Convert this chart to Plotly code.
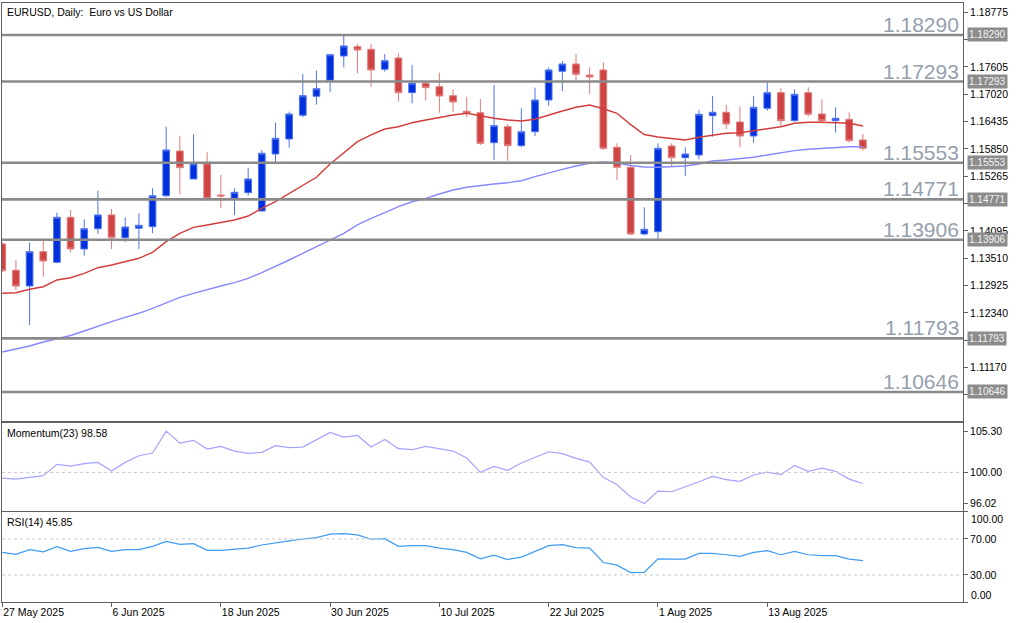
import plotly.graph_objects as go

# ---------------- data ----------------
dates = [
    "2025-05-27", "2025-05-28", "2025-05-29", "2025-05-30", "2025-06-02", "2025-06-03", "2025-06-04", "2025-06-05",
    "2025-06-06", "2025-06-09", "2025-06-10", "2025-06-11", "2025-06-12", "2025-06-13", "2025-06-16", "2025-06-17",
    "2025-06-18", "2025-06-19", "2025-06-20", "2025-06-23", "2025-06-24", "2025-06-25", "2025-06-26", "2025-06-27",
    "2025-06-30", "2025-07-01", "2025-07-02", "2025-07-03", "2025-07-04", "2025-07-07", "2025-07-08", "2025-07-09",
    "2025-07-10", "2025-07-11", "2025-07-14", "2025-07-15", "2025-07-16", "2025-07-17", "2025-07-18", "2025-07-21",
    "2025-07-22", "2025-07-23", "2025-07-24", "2025-07-25", "2025-07-28", "2025-07-29", "2025-07-30", "2025-07-31",
    "2025-08-01", "2025-08-04", "2025-08-05", "2025-08-06", "2025-08-07", "2025-08-08", "2025-08-11", "2025-08-12",
    "2025-08-13", "2025-08-14", "2025-08-15", "2025-08-18", "2025-08-19", "2025-08-20", "2025-08-21", "2025-08-22",
]

open_ = [1.13815, 1.13252, 1.12915, 1.13650, 1.13423, 1.14386, 1.13708, 1.14142, 1.14436, 1.13950, 1.14151, 1.14185,
         1.14849, 1.15806, 1.15207, 1.15528, 1.14864, 1.14793, 1.14913, 1.14521, 1.15742, 1.16063, 1.16571, 1.16977,
         1.17320, 1.17840, 1.18040, 1.17984, 1.17556, 1.17798, 1.17055, 1.17256, 1.17183, 1.16990, 1.16656, 1.16626,
         1.15984, 1.16326, 1.15920, 1.16219, 1.16898, 1.17513, 1.17669, 1.17434, 1.17541, 1.15885, 1.15457, 1.14029,
         1.14078, 1.15913, 1.15663, 1.15720, 1.16562, 1.16635, 1.16427, 1.16127, 1.16720, 1.17055, 1.16455, 1.17055,
         1.16598, 1.16455, 1.16485, 1.16042]
high = [1.13858, 1.13472, 1.13851, 1.13900, 1.14485, 1.14543, 1.14344, 1.14956, 1.14564, 1.14386, 1.14472, 1.15007,
        1.16326, 1.16134, 1.16164, 1.15778, 1.15292, 1.15007, 1.15449, 1.15828, 1.16412, 1.16648, 1.17455, 1.17526,
        1.17883, 1.18269, 1.18097, 1.18097, 1.17883, 1.17898, 1.17648, 1.17290, 1.17483, 1.17127, 1.16969, 1.16920,
        1.17219, 1.16384, 1.16720, 1.17162, 1.17598, 1.17733, 1.17883, 1.17598, 1.17705, 1.15971, 1.15720, 1.14601,
        1.15971, 1.15971, 1.15885, 1.16684, 1.16984, 1.16791, 1.16755, 1.16984, 1.17290, 1.17149, 1.17127, 1.17170,
        1.16913, 1.16742, 1.16635, 1.16170]
low = [1.13215, 1.12830, 1.12080, 1.13115, 1.13402, 1.13637, 1.13564, 1.14029, 1.13708, 1.13851, 1.13708, 1.14044,
       1.14815, 1.14879, 1.15207, 1.14742, 1.14579, 1.14436, 1.14849, 1.14521, 1.15571, 1.15877, 1.16528, 1.16798,
       1.17063, 1.17598, 1.17470, 1.17170, 1.17504, 1.16862, 1.16828, 1.16883, 1.16626, 1.16641, 1.16528, 1.15935,
       1.15613, 1.15598, 1.15885, 1.16127, 1.16776, 1.17091, 1.17326, 1.17027, 1.15828, 1.15185, 1.14007, 1.14007,
       1.13907, 1.15485, 1.15271, 1.15628, 1.16112, 1.16277, 1.15885, 1.15984, 1.16669, 1.16326, 1.16434, 1.16541,
       1.16399, 1.16198, 1.15984, 1.15813]
close = [1.13243, 1.12915, 1.13650, 1.13451, 1.14386, 1.13708, 1.14142, 1.14436, 1.13950, 1.14179, 1.14215, 1.14849,
         1.15828, 1.15449, 1.15528, 1.14793, 1.14843, 1.14922, 1.15207, 1.15757, 1.16078, 1.16598, 1.16990, 1.17140,
         1.17868, 1.18055, 1.17969, 1.17541, 1.17740, 1.17055, 1.17256, 1.17162, 1.16984, 1.16855, 1.16613, 1.15971,
         1.16348, 1.15920, 1.16219, 1.16898, 1.17541, 1.17669, 1.17449, 1.17391, 1.15864, 1.15457, 1.14029, 1.14130,
         1.15864, 1.15663, 1.15742, 1.16592, 1.16635, 1.16384, 1.16127, 1.16742, 1.17055, 1.16455, 1.17020, 1.16592,
         1.16455, 1.16506, 1.16027, 1.15864]

ma_fast = [1.12759, 1.12772, 1.12845, 1.12900, 1.13044, 1.13093, 1.13187, 1.13307, 1.13365, 1.13436, 1.13509, 1.13637,
           1.13864, 1.14044, 1.14172, 1.14222, 1.14271, 1.14329, 1.14414, 1.14579, 1.14720, 1.14900, 1.15078, 1.15243,
           1.15528, 1.15757, 1.16005, 1.16149, 1.16277, 1.16326, 1.16412, 1.16470, 1.16528, 1.16577, 1.16613, 1.16556,
           1.16506, 1.16470, 1.16449, 1.16485, 1.16577, 1.16663, 1.16742, 1.16791, 1.16710, 1.16613, 1.16370, 1.16159,
           1.16106, 1.16078, 1.16042, 1.16100, 1.16149, 1.16185, 1.16198, 1.16241, 1.16292, 1.16326, 1.16399, 1.16421,
           1.16421, 1.16412, 1.16399, 1.16342]
ma_slow = [1.11502, 1.11566, 1.11631, 1.11716, 1.11781, 1.11855, 1.11952, 1.12059, 1.12151, 1.12245, 1.12331, 1.12438,
           1.12558, 1.12673, 1.12759, 1.12845, 1.12915, 1.12986, 1.13080, 1.13200, 1.13329, 1.13472, 1.13616, 1.13757,
           1.13900, 1.14044, 1.14222, 1.14365, 1.14485, 1.14613, 1.14720, 1.14793, 1.14885, 1.14971, 1.15029, 1.15072,
           1.15100, 1.15127, 1.15170, 1.15256, 1.15342, 1.15414, 1.15485, 1.15543, 1.15571, 1.15549, 1.15496, 1.15464,
           1.15457, 1.15470, 1.15485, 1.15528, 1.15592, 1.15613, 1.15635, 1.15671, 1.15720, 1.15770, 1.15813, 1.15843,
           1.15864, 1.15877, 1.15898, 1.15898]

momentum = [99.28, 99.15, 99.37, 99.58, 101.03, 100.82, 101.12, 101.29, 100.18, 101.29, 102.14, 102.48,
            105.30, 103.76, 104.11, 103.00, 103.34, 102.74, 102.44, 102.57, 103.43, 103.17, 103.25, 104.19,
            105.13, 104.53, 104.74, 103.25, 104.23, 103.04, 102.91, 103.34, 103.00, 102.74, 101.84, 100.01,
            100.78, 100.26, 101.20, 101.97, 102.65, 102.40, 101.80, 101.33, 99.37, 98.43, 96.85, 96.02,
            97.62, 97.53, 98.13, 98.81, 99.50, 99.07, 98.86, 99.67, 100.05, 99.71, 100.90, 100.14,
            100.56, 100.14, 99.15, 98.58]
rsi = [55.1, 52.9, 58.1, 55.8, 61.4, 56.2, 59.2, 60.7, 56.2, 58.1, 58.1, 61.8,
       67.4, 64.1, 64.8, 57.3, 57.3, 58.4, 59.9, 63.3, 65.2, 67.8, 70.0, 71.5,
       75.3, 76.0, 74.5, 69.7, 70.4, 61.8, 62.6, 62.6, 59.9, 58.1, 55.1, 48.0,
       52.1, 47.2, 49.9, 56.6, 62.6, 63.7, 60.3, 59.9, 43.9, 40.9, 32.6, 33.0,
       48.0, 47.6, 47.6, 54.0, 54.0, 52.5, 50.6, 55.1, 57.0, 52.5, 56.2, 52.5,
       51.4, 51.4, 47.6, 45.85]

levels = [1.18290, 1.17293, 1.15553, 1.14771, 1.13906, 1.11793, 1.10646]
level_labels = ["1.18290", "1.17293", "1.15553", "1.14771", "1.13906", "1.11793", "1.10646"]

price_ticks = [1.18775, 1.18190, 1.17605, 1.17020, 1.16435, 1.15850, 1.15265, 1.14680,
               1.14095, 1.13510, 1.12925, 1.12340, 1.11755, 1.11170, 1.10585]
# labels hidden behind the level tags are left blank
price_tick_labels = ["1.18775", "", "1.17605", "1.17020", "1.16435", "1.15850", "1.15265", "",
                     "1.14095", "1.13510", "1.12925", "1.12340", "", "1.11170", ""]
mom_ticks = [96.02, 100.00, 105.30]
rsi_ticks = [0, 30, 70, 100]
date_ticks = ["2025-05-27", "2025-06-06", "2025-06-18", "2025-06-30", "2025-07-10", "2025-07-22", "2025-08-01", "2025-08-13"]
date_tick_labels = ["27 May 2025", "6 Jun 2025", "18 Jun 2025", "30 Jun 2025", "10 Jul 2025", "22 Jul 2025",
                    "1 Aug 2025", "13 Aug 2025"]

# ---------------- figure ----------------
FONT = "Liberation Sans"
AX = "#606060"

fig = go.Figure()

fig.add_trace(go.Candlestick(
    x=dates, open=open_, high=high, low=low, close=close,
    increasing=dict(line=dict(color="#4f74ef", width=1), fillcolor="#0030dc"),
    decreasing=dict(line=dict(color="#e07a7a", width=1), fillcolor="#d04343"),
    whiskerwidth=0, xaxis="x", yaxis="y", showlegend=False, hoverinfo="skip",
))
fig.add_trace(go.Scatter(x=dates, y=ma_fast, mode="lines", line=dict(color="#d43c3c", width=1.4),
                         xaxis="x", yaxis="y", showlegend=False, hoverinfo="skip"))
fig.add_trace(go.Scatter(x=dates, y=ma_slow, mode="lines", line=dict(color="#8787ff", width=1.4),
                         xaxis="x", yaxis="y", showlegend=False, hoverinfo="skip"))
fig.add_trace(go.Scatter(x=dates, y=momentum, mode="lines", line=dict(color="#a3a3ff", width=1.2),
                         xaxis="x2", yaxis="y2", showlegend=False, hoverinfo="skip"))
fig.add_trace(go.Scatter(x=dates, y=rsi, mode="lines", line=dict(color="#3f9cf0", width=1.2),
                         xaxis="x3", yaxis="y3", showlegend=False, hoverinfo="skip"))

xcommon = dict(type="category", range=[-0.02, 70.33], showline=True, linecolor=AX, linewidth=1, mirror=True,
               showgrid=False, zeroline=False, rangeslider=dict(visible=False), fixedrange=True)

shapes = []
annotations = []
for lv, lab in zip(levels, level_labels):
    shapes.append(dict(type="line", xref="paper", x0=0, x1=1, yref="y", y0=lv, y1=lv,
                       line=dict(color="#8a8a8a", width=2.6), layer="above"))
    annotations.append(dict(xref="paper", x=1, xanchor="right", xshift=-2, yref="y", y=lv, yanchor="bottom",
                            yshift=-3, text=lab, showarrow=False,
                            font=dict(family=FONT, size=21, color="#95a0ad")))
    annotations.append(dict(xref="paper", x=1, xanchor="left", xshift=4, yref="y", y=lv, yanchor="middle",
                            text=lab, showarrow=False, bgcolor="#8c8c8c", borderpad=1,
                            font=dict(family=FONT, size=10, color="#f4f4f4")))

shapes.append(dict(type="line", xref="paper", x0=0, x1=1, yref="y2", y0=100, y1=100,
                   line=dict(color="#c8c8c8", width=1, dash="dot")))
for v in (70, 30):
    shapes.append(dict(type="line", xref="paper", x0=0, x1=1, yref="y3", y0=v, y1=v,
                       line=dict(color="#c8c8c8", width=1, dash="dot")))

annotations.append(dict(xref="paper", x=0, xanchor="left", xshift=3, yref="paper", y=1, yanchor="top", yshift=-1,
                        text="EURUSD, Daily:\u00a0 Euro vs US Dollar", showarrow=False,
                        font=dict(family=FONT, size=10.5, color="#000000")))
annotations.append(dict(xref="paper", x=0, xanchor="left", xshift=3, yref="y2 domain", y=1, yanchor="top", yshift=-2,
                        text="Momentum(23) 98.58", showarrow=False,
                        font=dict(family=FONT, size=10.5, color="#000000")))
annotations.append(dict(xref="paper", x=0, xanchor="left", xshift=3, yref="y3 domain", y=1, yanchor="top", yshift=-2,
                        text="RSI(14) 45.85", showarrow=False,
                        font=dict(family=FONT, size=10.5, color="#000000")))
annotations.append(dict(xref="paper", x=1, xanchor="left", xshift=6, yref="y3", y=100, yanchor="top", yshift=1,
                        text="100.00", showarrow=False, font=dict(family=FONT, size=10.5, color="#000000")))
annotations.append(dict(xref="paper", x=1, xanchor="left", xshift=6, yref="y3", y=0, yanchor="bottom", yshift=-1,
                        text="0.00", showarrow=False, font=dict(family=FONT, size=10.5, color="#000000")))

yfont = dict(family=FONT, size=10.5, color="#000000")

fig.update_layout(
    width=1024, height=623,
    margin=dict(l=2, r=61, t=3, b=21),
    paper_bgcolor="white", plot_bgcolor="white",
    showlegend=False,
    xaxis=dict(**xcommon, domain=[0, 1], anchor="y", showticklabels=False, ticks=""),
    xaxis2=dict(**xcommon, domain=[0, 1], anchor="y2", matches="x", showticklabels=False, ticks=""),
    xaxis3=dict(**xcommon, domain=[0, 1], anchor="y3", matches="x", ticks="outside", ticklen=4, tickcolor=AX,
                tickvals=date_ticks, ticktext=date_tick_labels, ticklabelposition="outside right",
                tickfont=dict(family=FONT, size=10.5, color="#000000")),
    yaxis=dict(domain=[0.3022, 1], range=[1.10025, 1.18975], side="right", anchor="x",
               tickvals=price_ticks, ticktext=price_tick_labels,
               ticks="outside", ticklen=4, tickcolor=AX, tickfont=yfont,
               showline=True, linecolor=AX, linewidth=1, mirror=True, showgrid=False, zeroline=False,
               fixedrange=True),
    yaxis2=dict(domain=[0.1519, 0.2988], range=[95.06, 106.33], side="right", anchor="x2",
                tickvals=mom_ticks, ticktext=[f"{v:.2f}" for v in mom_ticks],
                ticks="outside", ticklen=4, tickcolor=AX, tickfont=yfont,
                showline=True, linecolor=AX, linewidth=1, mirror=True, showgrid=False, zeroline=False,
                fixedrange=True),
    yaxis3=dict(domain=[0, 0.1503], range=[0, 100], side="right", anchor="x3",
                tickvals=rsi_ticks, ticktext=["", "30.00", "70.00", ""],
                ticks="outside", ticklen=4, tickcolor=AX, tickfont=yfont,
                showline=True, linecolor=AX, linewidth=1, mirror=True, showgrid=False, zeroline=False,
                fixedrange=True),
    shapes=shapes,
    annotations=annotations,
)

fig.write_html("out.html")
